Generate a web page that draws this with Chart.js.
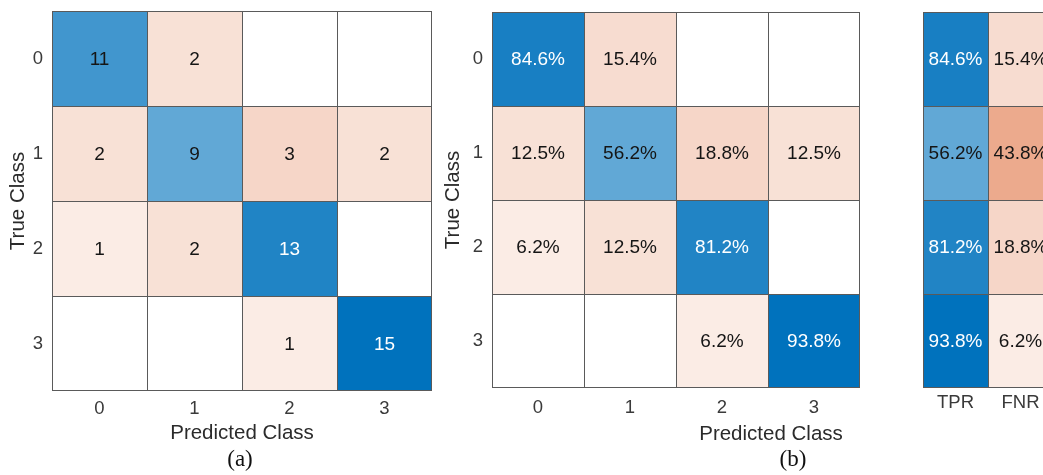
<!DOCTYPE html>
<html>
<head>
<meta charset="utf-8">
<script src="https://cdn.jsdelivr.net/npm/chart.js@4.4.1/dist/chart.umd.min.js"></script>
<style>
  html, body { margin: 0; padding: 0; background: #ffffff; }
  body { position: relative; width: 1043px; height: 475px; overflow: hidden; }
  canvas { position: absolute; top: 0; }
</style>
</head>
<body>
<canvas id="cmCount" width="440" height="475" style="left:0px"></canvas>
<canvas id="cmRate" width="430" height="475" style="left:440px"></canvas>
<canvas id="cmSummary" width="160" height="475" style="left:900px"></canvas>
<script>
// Class labels
const trueClasses = ['0', '1', '2', '3'];
const predictedClasses = ['0', '1', '2', '3'];
const summaryLabels = ['TPR', 'FNR'];

// Confusion matrix: rows = true class, columns = predicted class
const countMatrix = [
  [11, 2, 0, 0],
  [2, 9, 3, 2],
  [1, 2, 13, 0],
  [0, 0, 1, 15]
];

// Row-normalised confusion matrix (%)
const rateMatrix = [
  [84.6, 15.4, 0, 0],
  [12.5, 56.2, 18.8, 12.5],
  [6.2, 12.5, 81.2, 0],
  [0, 0, 6.2, 93.8]
];

// Per-class true positive / false negative rates (%)
const tprValues = [84.6, 56.2, 81.2, 93.8];
const fnrValues = [15.4, 43.8, 18.8, 6.2];

const SANS = '"Liberation Sans", Arial, Helvetica, sans-serif';
const SERIF = '"Liberation Serif", "Times New Roman", serif';
const TICK_COLOR = '#3a3a3a';
const LINE_COLOR = '#5a5a5a';
const BLUE = [0, 114, 189];
const RED = [217, 83, 25];

// Blend from white towards the base colour; non-zero cells get a faint minimum tint
function shade(rgb, frac) {
  const t = 0.05 + 0.95 * frac;
  const c = rgb.map(v => Math.round(255 + (v - 255) * t));
  return 'rgb(' + c[0] + ',' + c[1] + ',' + c[2] + ')';
}

// One stacked bar per cell: each row of the matrix is a dataset of unit-height bars
function cellDatasets(matrix, maxVal, blueAt) {
  const nRows = matrix.length;
  return matrix.map((row, r) => ({
    data: row.map(() => 1),
    backgroundColor: ctx => {
      const v = matrix[r][ctx.dataIndex];
      if (!v) return '#ffffff';
      return shade(blueAt(r, ctx.dataIndex) ? BLUE : RED, v / maxVal);
    },
    borderColor: LINE_COLOR,
    borderWidth: ctx => ({
      top: 1,
      left: 1,
      right: ctx.dataIndex === row.length - 1 ? 1 : 0,
      bottom: r === nRows - 1 ? 1 : 0
    }),
    borderSkipped: false,
    inflateAmount: 0,
    barPercentage: 1,
    categoryPercentage: 1
  }));
}

// Writes each cell's value at the centre of its bar
function cellLabels(matrix, maxVal, blueAt, format) {
  return {
    id: 'cellLabels',
    afterDatasetsDraw(chart) {
      const ctx = chart.ctx;
      ctx.save();
      ctx.font = '19px ' + SANS;
      ctx.textAlign = 'center';
      ctx.textBaseline = 'middle';
      chart.data.datasets.forEach((ds, r) => {
        chart.getDatasetMeta(r).data.forEach((bar, c) => {
          const v = matrix[r][c];
          if (!v) return;
          const p = bar.getProps(['x', 'y', 'base'], true);
          const dark = blueAt(r, c) && v / maxVal > 0.8;
          ctx.fillStyle = dark ? '#ffffff' : '#151515';
          ctx.fillText(format(v), p.x, (p.y + p.base) / 2 + 1);
        });
      });
      ctx.restore();
    }
  };
}

// Free-standing captions (panel tags, shifted axis label)
function captions(items) {
  return {
    id: 'captions',
    afterDraw(chart) {
      const ctx = chart.ctx;
      ctx.save();
      ctx.textAlign = 'center';
      ctx.textBaseline = 'middle';
      items.forEach(it => {
        ctx.font = it.font;
        ctx.fillStyle = it.color;
        ctx.fillText(it.text, it.x, it.y);
      });
      ctx.restore();
    }
  };
}

function rowAxis(labels, cfg) {
  return {
    type: 'linear',
    min: 0,
    max: labels.length,
    reverse: true,
    stacked: true,
    display: cfg.display,
    afterBuildTicks: s => { s.ticks = labels.map((_, i) => ({ value: i + 0.5 })); },
    afterFit: s => {
      s.paddingTop = 0;
      s.paddingBottom = 0;
      if (cfg.display) s.width = cfg.width;
    },
    ticks: {
      callback: (v, i) => labels[i],
      padding: 9,
      color: TICK_COLOR,
      font: { family: SANS, size: 18.5 },
      autoSkip: false
    },
    grid: { display: false, drawTicks: false },
    border: { display: false },
    title: {
      display: !!cfg.title,
      text: cfg.title || '',
      color: '#2b2b2b',
      font: { family: SANS, size: 20.5 },
      padding: { top: cfg.titlePad || 0, bottom: 0 }
    }
  };
}

function colAxis(cfg) {
  return {
    type: 'category',
    stacked: true,
    offset: true,
    afterFit: s => {
      s.paddingLeft = 0;
      s.paddingRight = 0;
      s.height = cfg.height;
    },
    ticks: {
      padding: cfg.tickPad,
      color: TICK_COLOR,
      font: { family: SANS, size: 18.5 }
    },
    grid: { display: false, drawTicks: false },
    border: { display: false },
    title: {
      display: !!cfg.title,
      text: cfg.title || '',
      color: '#2b2b2b',
      font: { family: SANS, size: 20.5 },
      padding: { top: 0, bottom: cfg.titlePad || 0 }
    }
  };
}

function baseOptions(padding, scales) {
  return {
    responsive: false,
    animation: false,
    events: [],
    layout: { padding },
    plugins: { legend: { display: false }, tooltip: { enabled: false }, title: { display: false } },
    scales
  };
}

const isDiagonal = (r, c) => r === c;

// (a) counts
const countMax = Math.max(...countMatrix.flat());
new Chart(document.getElementById('cmCount'), {
  type: 'bar',
  data: { labels: predictedClasses, datasets: cellDatasets(countMatrix, countMax, isDiagonal) },
  options: baseOptions({ top: 11, right: 8, bottom: 24, left: 0 }, {
    x: colAxis({ height: 60, tickPad: 7, title: 'Predicted Class', titlePad: 5 }),
    y: rowAxis(trueClasses, { display: true, width: 52, title: 'True Class', titlePad: 6 })
  }),
  plugins: [
    cellLabels(countMatrix, countMax, isDiagonal, v => String(v)),
    captions([{ text: '(a)', x: 240, y: 460, font: '23px ' + SERIF, color: '#111111' }])
  ]
});

// (b) row-normalised rates
const rateMax = Math.max(...rateMatrix.flat());
new Chart(document.getElementById('cmRate'), {
  type: 'bar',
  data: { labels: predictedClasses, datasets: cellDatasets(rateMatrix, rateMax, isDiagonal) },
  options: baseOptions({ top: 12, right: 10, bottom: 57, left: 0 }, {
    x: colAxis({ height: 30, tickPad: 9 }),
    y: rowAxis(trueClasses, { display: true, width: 52, title: 'True Class', titlePad: 1 })
  }),
  plugins: [
    cellLabels(rateMatrix, rateMax, isDiagonal, v => v.toFixed(1) + '%'),
    captions([
      { text: 'Predicted Class', x: 331, y: 434, font: '20.5px ' + SANS, color: '#2b2b2b' },
      { text: '(b)', x: 353, y: 460, font: '23px ' + SERIF, color: '#111111' }
    ])
  ]
});

// Per-class summary: TPR | FNR
const summaryMatrix = tprValues.map((t, i) => [t, fnrValues[i]]);
const summaryMax = Math.max(...summaryMatrix.flat());
const isTprColumn = (r, c) => c === 0;
new Chart(document.getElementById('cmSummary'), {
  type: 'bar',
  data: { labels: summaryLabels, datasets: cellDatasets(summaryMatrix, summaryMax, isTprColumn) },
  options: baseOptions({ top: 12, right: 7, bottom: 57, left: 23 }, {
    x: colAxis({ height: 30, tickPad: 4 }),
    y: rowAxis(trueClasses, { display: false })
  }),
  plugins: [
    cellLabels(summaryMatrix, summaryMax, isTprColumn, v => v.toFixed(1) + '%')
  ]
});
</script>
</body>
</html>
